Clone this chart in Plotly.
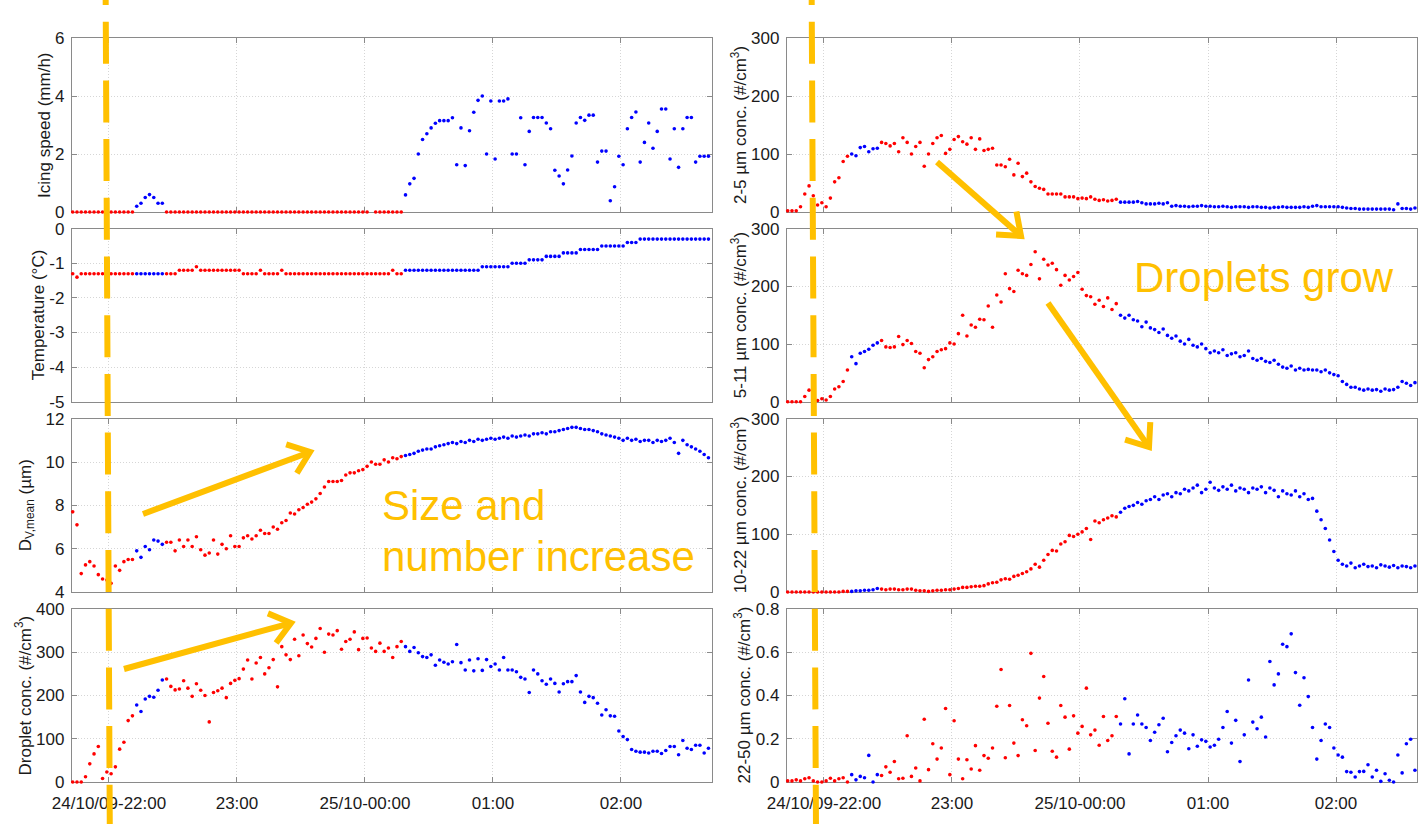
import math
import plotly.graph_objects as go
import pandas as pd

# ---------------- data (2-minute samples, 24/10/09 21:43 -> 25/10 02:41) ----------------
TIMES = pd.date_range("2009-10-24 21:43", periods=150, freq="2min")

# periods drawn in blue (others red)
BLUE_PERIODS = [("2009-10-24 22:12", "2009-10-24 22:26"),
                ("2009-10-25 00:18", "2009-10-25 03:00")]

TICK_VALS = ["2009-10-24 22:00", "2009-10-24 23:00", "2009-10-25 00:00",
             "2009-10-25 01:00", "2009-10-25 02:00"]
TICK_TEXT = ["24/10/09-22:00", "23:00", "25/10-00:00", "01:00", "02:00"]

ICING = [
    0, 0, 0, 0, 0, 0, 0, 0, 0, 0,
    0, 0, 0, 0, 0, 0.2, 0.3, 0.5, 0.6, 0.5,
    0.3, 0.3, 0, 0, 0, 0, 0, 0, 0, 0,
    0, 0, 0, 0, 0, 0, 0, 0, 0, 0,
    0, 0, 0, 0, 0, 0, 0, 0, 0, 0,
    0, 0, 0, 0, 0, 0, 0, 0, 0, 0,
    0, 0, 0, 0, 0, 0, 0, 0, 0, 0,
    None, 0, 0, 0, 0, 0, 0, 0, 0.59, 0.97,
    1.16, 2.0, 2.5, 2.7, 2.9, 3.06, 3.15, 3.15, 3.15, 3.25,
    1.63, 2.9, 1.6, 2.8, 3.44, 3.85, 4.0, 2.0, 3.83, 1.83,
    3.83, 3.83, 3.9, 2.0, 2.0, 3.25, 1.63, 2.78, 3.26, 3.26,
    3.26, 3.07, 2.87, 1.44, 1.24, 0.97, 1.45, 1.93, 3.07, 3.26,
    3.16, 3.34, 3.34, 1.72, 2.1, 2.1, 0.39, 0.87, 1.92, 1.63,
    2.87, 3.26, 3.45, 1.72, 2.4, 3.07, 2.2, 2.78, 3.55, 3.55,
    1.83, 2.87, 1.54, 2.87, 3.26, 3.26, 1.72, 1.92, 1.92, 1.92,
]

TEMP = [
    -1.3, -1.4, -1.3, -1.3, -1.3, -1.3, -1.3, -1.3, -1.3, -1.3,
    -1.3, -1.3, -1.3, -1.3, -1.3, -1.3, -1.3, -1.3, -1.3, -1.3,
    -1.3, -1.3, -1.3, -1.3, -1.3, -1.2, -1.2, -1.2, -1.2, -1.1,
    -1.2, -1.2, -1.2, -1.2, -1.2, -1.2, -1.2, -1.2, -1.2, -1.2,
    -1.3, -1.3, -1.3, -1.3, -1.2, -1.3, -1.3, -1.3, -1.3, -1.2,
    -1.3, -1.3, -1.3, -1.3, -1.3, -1.3, -1.3, -1.3, -1.3, -1.3,
    -1.3, -1.3, -1.3, -1.3, -1.3, -1.3, -1.3, -1.3, -1.3, -1.3,
    -1.3, -1.3, -1.3, -1.3, -1.3, -1.2, -1.3, -1.3, -1.2, -1.2,
    -1.2, -1.2, -1.2, -1.2, -1.2, -1.2, -1.2, -1.2, -1.2, -1.2,
    -1.2, -1.2, -1.2, -1.2, -1.2, -1.2, -1.1, -1.1, -1.1, -1.1,
    -1.1, -1.1, -1.1, -1.0, -1.0, -1.0, -1.0, -0.9, -0.9, -0.9,
    -0.9, -0.8, -0.8, -0.8, -0.8, -0.7, -0.7, -0.7, -0.7, -0.6,
    -0.6, -0.6, -0.6, -0.6, -0.5, -0.5, -0.5, -0.5, -0.5, -0.5,
    -0.4, -0.4, -0.4, -0.3, -0.3, -0.3, -0.3, -0.3, -0.3, -0.3,
    -0.3, -0.3, -0.3, -0.3, -0.3, -0.3, -0.3, -0.3, -0.3, -0.3,
]

DMEAN = [
    7.7, 7.1, 4.85, 5.25, 5.4, 5.2, 4.8, 4.6, 4.55, 4.4,
    5.2, 5.0, 5.4, 5.5, 5.5, 5.9, 5.6, 6.1, 5.95, 6.4,
    6.35, 6.2, 6.3, 6.3, 5.9, 6.4, 6.1, 6.4, 6.1, 6.55,
    5.95, 5.7, 5.8, 6.4, 5.75, 6.2, 6.0, 6.6, 6.1, 6.1,
    6.5, 6.6, 6.45, 6.6, 6.85, 6.7, 6.7, 7.0, 6.9, 7.2,
    7.3, 7.65, 7.6, 7.8, 7.9, 8.05, 8.15, 8.3, 8.55, 8.85,
    9.1, 9.1, 9.1, 9.15, 9.4, 9.5, 9.5, 9.6, 9.65, 9.8,
    10.0, 9.9, 9.9, 10.1, 10.0, 10.2, 10.15, 10.25, 10.3, 10.35,
    10.4, 10.5, 10.55, 10.6, 10.6, 10.7, 10.75, 10.8, 10.85, 10.9,
    10.85, 10.95, 10.9, 11.0, 10.95, 11.05, 11.0, 11.05, 11.1, 11.05,
    11.1, 11.15, 11.1, 11.2, 11.15, 11.2, 11.25, 11.2, 11.3, 11.3,
    11.35, 11.3, 11.4, 11.4, 11.45, 11.5, 11.55, 11.6, 11.6, 11.55,
    11.5, 11.5, 11.45, 11.4, 11.3, 11.25, 11.2, 11.15, 11.1, 11.0,
    11.1, 11.0, 11.05, 10.95, 11.0, 11.0, 10.9, 11.0, 10.95, 11.0,
    11.1, 10.9, 10.4, 11.0, 10.8, 10.7, 10.6, 10.5, 10.35, 10.2,
]

DROPLET = [
    0, 0, 0, 12, 42, 65, 82, 8, 23, 19,
    35, 76, 92, 142, 153, 178, 163, 192, 198, 196,
    212, 236, 238, 221, 213, 215, 234, 217, 198, 227,
    212, 200, 139, 207, 211, 217, 195, 228, 235, 239,
    261, 282, 238, 275, 288, 250, 264, 283, 220, 313,
    294, 283, 330, 292, 340, 320, 312, 332, 355, 300,
    342, 340, 350, 307, 325, 330, 347, 306, 332, 333,
    310, 302, 321, 302, 310, 288, 313, 325, 313, 302,
    311, 299, 290, 288, 294, 270, 282, 277, 273, 278,
    318, 276, 259, 282, 257, 285, 258, 283, 267, 273,
    259, 288, 259, 259, 255, 242, 238, 207, 259, 250,
    234, 226, 238, 228, 208, 227, 232, 232, 246, 208,
    184, 198, 195, 182, 155, 167, 153, 152, 118, 105,
    98, 75, 71, 69, 69, 67, 71, 71, 66, 73,
    82, 82, 63, 96, 78, 75, 85, 85, 67, 78,
]

C2_5 = [
    2, 2, 2, 9, 31, 45, 28, 12, 16, 9,
    24, 52, 59, 87, 96, 100, 97, 111, 113, 104,
    109, 110, 120, 118, 114, 118, 104, 128, 120, 100,
    113, 120, 79, 100, 118, 128, 132, 101, 108, 125,
    130, 121, 117, 128, 108, 126, 106, 108, 110, 81,
    81, 78, 91, 64, 84, 61, 67, 52, 44, 41,
    39, 31, 31, 31, 31, 26, 26, 26, 23, 24,
    23, 26, 22, 20, 21, 19, 20, 22, 17, 17,
    17, 17, 18, 16, 14, 14, 14, 15, 14, 16,
    10, 11, 10, 10, 9, 10, 10, 11, 10, 10,
    9, 9, 10, 9, 8, 9, 9, 9, 8, 9,
    9, 8, 8, 7, 8, 8, 9, 8, 8, 8,
    8, 9, 8, 10, 11, 9, 9, 9, 9, 9,
    8, 7, 6, 6, 5, 5, 5, 5, 5, 5,
    5, 5, 4, 14, 6, 6, 5, 7, 6, 6,
]

C5_11 = [
    0, 0, 0, 0, 9, 20, 24, 2, 5, 3,
    9, 22, 26, 35, 55, 78, 66, 84, 87, 91,
    98, 102, 106, 95, 94, 95, 113, 99, 106, 101,
    87, 84, 59, 73, 78, 87, 90, 92, 102, 100,
    118, 150, 114, 133, 129, 143, 142, 166, 129, 185,
    173, 222, 196, 191, 228, 222, 219, 238, 260, 213,
    247, 237, 240, 229, 202, 219, 211, 217, 224, 195,
    184, 182, 169, 176, 165, 180, 160, 170, 150, 145,
    150, 142, 140, 130, 138, 128, 125, 120, 126, 115,
    110, 114, 105, 100, 108, 98, 95, 100, 92, 85,
    88, 85, 90, 80, 83, 85, 78, 80, 88, 75,
    72, 75, 70, 68, 72, 65, 60, 58, 62, 55,
    58, 55, 56, 55, 55, 52, 55, 50, 47, 45,
    35, 30, 25, 25, 22, 20, 22, 20, 21, 18,
    22, 20, 21, 25, 35, 32, 28, 33, 30, 30,
]

C10_22 = [
    0, 0, 0, 0, 0, 0, 0, 0, 0, 0,
    0, 0, 0, 1, 1, 1, 2, 2, 3, 3,
    4, 6, 5, 4, 5, 5, 4, 4, 5, 5,
    3, 2, 2, 1, 2, 3, 3, 4, 4, 5,
    6, 8, 8, 9, 10, 10, 11, 14, 16, 17,
    21, 23, 22, 27, 29, 32, 35, 40, 48, 43,
    55, 65, 72, 71, 83, 87, 98, 96, 100, 104,
    110, 91, 123, 120, 125, 128, 132, 130, 138, 145,
    148, 150, 155, 152, 158, 160, 165, 160, 168, 170,
    165, 172, 170, 178, 175, 180, 185, 172, 178, 190,
    180, 176, 182, 178, 185, 175, 180, 178, 172, 180,
    178, 182, 172, 180, 176, 165, 175, 170, 168, 175,
    165, 170, 160, 162, 140, 125, 110, 90, 70, 55,
    48, 45, 50, 42, 45, 48, 44, 45, 42, 47,
    45, 43, 46, 42, 45, 44, 42, 45, 43, 44,
]

C22_50 = [
    0.005, 0.005, 0.01, 0.005, 0.015, 0.02, 0.005, 0.0, 0.0, 0.005,
    0.017, 0.005, 0.015, 0.02, 0.0, 0.034, 0.01, 0.026, 0.02, 0.123,
    0.0, 0.034, 0.03, 0.07, 0.045, 0.095, 0.015, 0.017, 0.214, 0.026,
    0.065, 0.005, 0.29, 0.057, 0.177, 0.106, 0.157, 0.34, 0.034, 0.283,
    0.106, 0.015, 0.103, 0.06, 0.168, 0.054, 0.122, 0.11, 0.157, 0.35,
    0.52, 0.112, 0.354, 0.18, 0.122, 0.288, 0.26, 0.595, 0.146, 0.388,
    0.488, 0.272, 0.142, 0.115, 0.354, 0.3, 0.152, 0.306, 0.226, 0.257,
    0.434, 0.218, 0.24, 0.17, 0.303, 0.192, 0.214, 0.303, 0.268, 0.385,
    0.13, 0.268, 0.31, 0.268, 0.252, 0.192, 0.23, 0.265, 0.295, 0.14,
    0.183, 0.214, 0.24, 0.226, 0.154, 0.218, 0.165, 0.195, 0.188, 0.162,
    0.17, 0.198, 0.252, 0.326, 0.18, 0.285, 0.095, 0.218, 0.472, 0.277,
    0.246, 0.3, 0.208, 0.557, 0.449, 0.5, 0.637, 0.626, 0.685, 0.506,
    0.355, 0.482, 0.395, 0.252, 0.106, 0.192, 0.268, 0.252, 0.157, 0.125,
    0.115, 0.048, 0.045, 0.023, 0.048, 0.049, 0.08, 0.023, 0.054, 0.003,
    0.038, 0.008, 0.0, 0.125, 0.042, 0.177, 0.198, 0.054, 0.038, 0.03,
]

# ---------------- layout constants ----------------
W, H = 1418, 824
FONT = "Liberation Sans, Arial, sans-serif"
TXT = "#1a1a1a"
AXC = "#8a8a8a"
GRID = "#d6d6d6"
YEL = "#FFC000"
RED = "#FF0000"
BLUE = "#0000FF"


def fx(x):
    return x / W


def fy(y):
    return 1 - y / H


COLS = {"L": (72, 712, "2009-10-25 02:42:40"), "R": (787, 1417, "2009-10-25 02:37:58")}
X_START = "2009-10-24 21:42:40"
ROWS = [(38, 212), (228.7, 401.7), (418.7, 592), (609, 782)]

PANELS = [
    ("L", 0, ICING, [0, 6], [0, 2, 4, 6], ["0", "2", "4", "6"], "Icing speed (mm/h)", 45),
    ("L", 1, TEMP, [-5, 0], [-5, -4, -3, -2, -1, 0], ["-5", "-4", "-3", "-2", "-1", "0"],
     "Temperature (°C)", 38),
    ("L", 2, DMEAN, [4, 12], [4, 6, 8, 10, 12], ["4", "6", "8", "10", "12"],
     "D<sub>V,mean</sub> (µm)", 27),
    ("L", 3, DROPLET, [0, 400], [0, 100, 200, 300, 400], ["0", "100", "200", "300", "400"],
     "Droplet conc. (#/cm<sup>3</sup>)", 23),
    ("R", 0, C2_5, [0, 300], [0, 100, 200, 300], ["0", "100", "200", "300"],
     "2-5 µm conc. (#/cm<sup>3</sup>)", 739),
    ("R", 1, C5_11, [0, 300], [0, 100, 200, 300], ["0", "100", "200", "300"],
     "5-11 µm conc. (#/cm<sup>3</sup>)", 739),
    ("R", 2, C10_22, [0, 300], [0, 100, 200, 300], ["0", "100", "200", "300"],
     "10-22 µm conc. (#/cm<sup>3</sup>)", 739),
    ("R", 3, C22_50, [0, 0.8], [0, 0.2, 0.4, 0.6, 0.8], ["0", "0.2", "0.4", "0.6", "0.8"],
     "22-50 µm conc. (#/cm<sup>3</sup>)", 742),
]

blue_bounds = [(pd.Timestamp(a), pd.Timestamp(b)) for a, b in BLUE_PERIODS]
IS_BLUE = [any(a <= t < b for a, b in blue_bounds) for t in TIMES]

fig = go.Figure()
annotations = []
layout_axes = {}

for k, (col, row, series, yr, tv, tt, title, tx) in enumerate(PANELS, start=1):
    x0, x1, xend = COLS[col]
    ytop, ybot = ROWS[row]
    xs = f"x{k}" if k > 1 else "x"
    ys = f"y{k}" if k > 1 else "y"

    for flag, color in ((False, RED), (True, BLUE)):
        xv = [t for t, b in zip(TIMES, IS_BLUE) if b == flag]
        yv = [v for v, b in zip(series, IS_BLUE) if b == flag]
        fig.add_trace(go.Scatter(
            x=xv, y=yv, xaxis=xs, yaxis=ys, mode="markers",
            marker=dict(color=color, size=3.6, line=dict(width=0)),
            cliponaxis=False, showlegend=False, hoverinfo="skip"))

    common = dict(
        ticks="inside", ticklen=5, tickwidth=1, tickcolor=AXC,
        showline=True, linecolor=AXC, linewidth=1.2, mirror="ticks",
        showgrid=True, gridcolor=GRID, griddash="1px,2px", gridwidth=1,
        zeroline=False, layer="below traces", automargin=False,
        tickfont=dict(family=FONT, size=17, color=TXT),
    )
    layout_axes[f"xaxis{k}"] = dict(
        domain=[fx(x0), fx(x1)], anchor=ys, type="date",
        range=[X_START, xend], tickmode="array",
        tickvals=TICK_VALS, ticktext=TICK_TEXT,
        showticklabels=(row == 3), ticklabelstandoff=5, **common)
    layout_axes[f"yaxis{k}"] = dict(
        domain=[fy(ybot), fy(ytop)], anchor=xs, range=yr,
        tickmode="array", tickvals=tv, ticktext=tt,
        ticklabelstandoff=3, **common)

    annotations.append(dict(
        text=title, xref="paper", yref="paper", x=fx(tx), y=fy((ytop + ybot) / 2),
        textangle=-90, showarrow=False, xanchor="center", yanchor="middle",
        font=dict(family=FONT, size=17, color=TXT)))

# big labels
for text, x, y in (("Size and", 380, 505), ("number increase", 380, 556),
                   ("Droplets grow", 1132, 278)):
    annotations.append(dict(
        text=text, xref="paper", yref="paper", x=fx(x), y=fy(y),
        xanchor="left", yanchor="middle", showarrow=False,
        font=dict(family=FONT, size=42, color=YEL)))

shapes = []

# dashed vertical event lines
for (xa, xb) in ((105.5, 109.8), (811.5, 816)):
    shapes.append(dict(
        type="line", xref="paper", yref="paper",
        x0=fx(xa), y0=fy(-37), x1=fx(xb), y1=fy(830),
        line=dict(color=YEL, width=6, dash="42px,16.7px"), layer="above"))

# arrows (tail -> tip, in pixels), drawn as a shaft plus an open chevron head
ARROWS = [((143, 514), (310, 452)), ((124, 669), (291, 623)),
          ((937, 162), (1021, 236)), ((1048, 303), (1149, 447))]
ARM, HALF = 25, math.radians(38)
for (ax0, ay0), (hx, hy) in ARROWS:
    dx, dy = hx - ax0, hy - ay0
    ln = math.hypot(dx, dy)
    ux, uy = dx / ln, dy / ln
    arms = []
    for s in (1, -1):
        c, sn = math.cos(HALF), math.sin(HALF) * s
        rx = -ux * c + uy * sn
        ry = -ux * sn - uy * c
        arms.append((hx + ARM * rx, hy + ARM * ry))
    shapes.append(dict(
        type="line", xref="paper", yref="paper",
        x0=fx(ax0), y0=fy(ay0), x1=fx(hx - 2 * ux), y1=fy(hy - 2 * uy),
        line=dict(color=YEL, width=6), layer="above"))
    path = (f"M {fx(arms[0][0]):.6f},{fy(arms[0][1]):.6f} "
            f"L {fx(hx):.6f},{fy(hy):.6f} "
            f"L {fx(arms[1][0]):.6f},{fy(arms[1][1]):.6f}")
    shapes.append(dict(
        type="path", xref="paper", yref="paper", path=path,
        line=dict(color=YEL, width=6), layer="above"))

fig.update_layout(
    width=W, height=H,
    margin=dict(l=0, r=0, t=0, b=0, pad=0, autoexpand=False),
    paper_bgcolor="white", plot_bgcolor="white",
    font=dict(family=FONT, size=17, color=TXT),
    annotations=annotations, shapes=shapes, **layout_axes)

fig.write_html("out.html",
               config={"displayModeBar": False, "staticPlot": True},
               post_script="document.body.style.margin='0px';"
                           "document.body.style.overflow='hidden';")
